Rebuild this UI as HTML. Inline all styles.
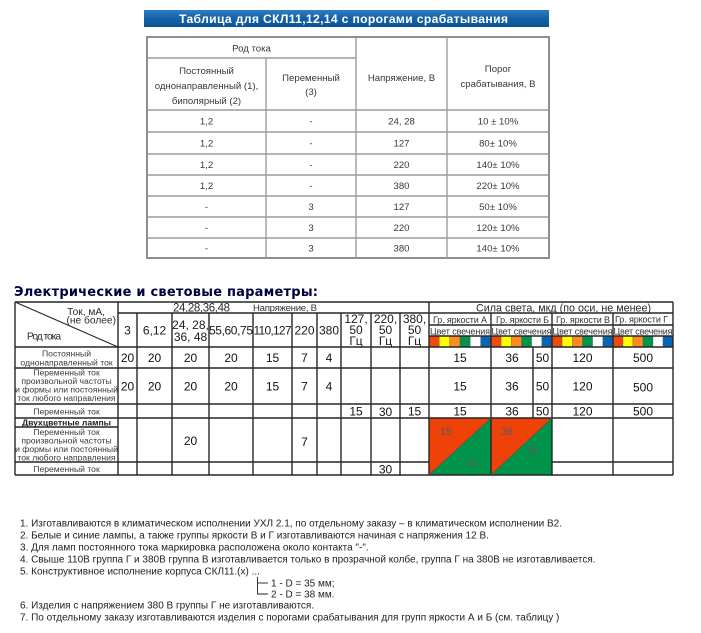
<!DOCTYPE html>
<html><head><meta charset="utf-8">
<style>
html,body{margin:0;padding:0;background:#fff;width:701px;height:633px;overflow:hidden}
svg{display:block;font-family:"Liberation Sans",Arial,sans-serif}
</style></head>
<body>
<svg width="701" height="633" viewBox="0 0 701 633" xmlns="http://www.w3.org/2000/svg">
<defs>
<linearGradient id="bg" x1="0" y1="0" x2="0" y2="1">
<stop offset="0" stop-color="#2f7cc4"/><stop offset="0.5" stop-color="#1262a8"/><stop offset="1" stop-color="#0b5498"/>
</linearGradient>
</defs>
<rect width="701" height="633" fill="#fff"/>

<!-- ===== Top banner ===== -->
<rect x="144" y="10" width="405" height="17" fill="url(#bg)"/>
<text x="179" y="23" fill="#fff" font-weight="bold" font-size="12.2" textLength="329">Таблица для СКЛ11,12,14 с порогами срабатывания</text>

<!-- ===== Top table ===== -->
<g stroke="#9c9c9c" stroke-width="1.4" fill="none">
<rect x="147" y="37" width="402" height="221" stroke="#8e8e8e" stroke-width="2"/>
<line x1="147" y1="58" x2="356" y2="58"/>
<line x1="147" y1="110" x2="549" y2="110"/>
<line x1="147" y1="132" x2="549" y2="132"/>
<line x1="147" y1="154" x2="549" y2="154"/>
<line x1="147" y1="175" x2="549" y2="175"/>
<line x1="147" y1="196" x2="549" y2="196"/>
<line x1="147" y1="217" x2="549" y2="217"/>
<line x1="147" y1="238" x2="549" y2="238"/>
<line x1="266" y1="58" x2="266" y2="258"/>
<line x1="356" y1="37" x2="356" y2="258"/>
<line x1="447" y1="37" x2="447" y2="258"/>
</g>
<g fill="#383838" font-size="9.6" text-anchor="middle">
<text x="251.5" y="51.5">Род тока</text>
<text x="206.5" y="74">Постоянный</text>
<text x="206.5" y="89">однонаправленный (1),</text>
<text x="206.5" y="104">биполярный (2)</text>
<text x="311" y="81">Переменный</text>
<text x="311" y="95">(3)</text>
<text x="401.5" y="81">Напряжение, В</text>
<text x="498" y="72">Порог</text>
<text x="498" y="87">срабатывания, В</text>

<text x="206.5" y="124.5">1,2</text><text x="311" y="124.5">-</text><text x="401.5" y="124.5">24, 28</text><text x="498" y="124.5">10 ± 10%</text>
<text x="206.5" y="146.5">1,2</text><text x="311" y="146.5">-</text><text x="401.5" y="146.5">127</text><text x="498" y="146.5">80± 10%</text>
<text x="206.5" y="168">1,2</text><text x="311" y="168">-</text><text x="401.5" y="168">220</text><text x="498" y="168">140± 10%</text>
<text x="206.5" y="189">1,2</text><text x="311" y="189">-</text><text x="401.5" y="189">380</text><text x="498" y="189">220± 10%</text>
<text x="206.5" y="210">-</text><text x="311" y="210">3</text><text x="401.5" y="210">127</text><text x="498" y="210">50± 10%</text>
<text x="206.5" y="231">-</text><text x="311" y="231">3</text><text x="401.5" y="231">220</text><text x="498" y="231">120± 10%</text>
<text x="206.5" y="251.5">-</text><text x="311" y="251.5">3</text><text x="401.5" y="251.5">380</text><text x="498" y="251.5">140± 10%</text>
</g>

<!-- ===== Section title ===== -->
<text x="14" y="296" fill="#00003c" font-family="'DejaVu Sans',Verdana,sans-serif" font-weight="bold" font-size="13" textLength="304">Электрические и световые параметры:</text>

<!-- ===== Second table: triangles ===== -->
<polygon points="429,418 491,418 429,475" fill="#ee4208"/>
<polygon points="491,418 491,475 429,475" fill="#00944a"/>
<polygon points="491,418 552,418 491,475" fill="#ee4208"/>
<polygon points="552,418 552,475 491,475" fill="#00944a"/>
<g font-size="11" fill="#5a5a5a" text-anchor="middle">
<text x="446" y="435">15</text>
<text x="472" y="466">15</text>
<text x="507" y="435">36</text>
<text x="533" y="454">36</text>
</g>

<!-- colour strip -->
<g stroke="#555" stroke-width="0.6" stroke-dasharray="1,1">
<rect x="429" y="336" width="10.33" height="11" fill="#f04a0a"/>
<rect x="439.33" y="336" width="10.33" height="11" fill="#ffff00"/>
<rect x="449.67" y="336" width="10.33" height="11" fill="#ff8c1e"/>
<rect x="460" y="336" width="10.33" height="11" fill="#00954a"/>
<rect x="470.33" y="336" width="10.33" height="11" fill="#ffffff"/>
<rect x="480.67" y="336" width="10.33" height="11" fill="#0a64b4"/>

<rect x="491" y="336" width="10.17" height="11" fill="#f04a0a"/>
<rect x="501.17" y="336" width="10.17" height="11" fill="#ffff00"/>
<rect x="511.33" y="336" width="10.17" height="11" fill="#ff8c1e"/>
<rect x="521.5" y="336" width="10.17" height="11" fill="#00954a"/>
<rect x="531.67" y="336" width="10.17" height="11" fill="#ffffff"/>
<rect x="541.83" y="336" width="10.17" height="11" fill="#0a64b4"/>

<rect x="552" y="336" width="10.17" height="11" fill="#f04a0a"/>
<rect x="562.17" y="336" width="10.17" height="11" fill="#ffff00"/>
<rect x="572.33" y="336" width="10.17" height="11" fill="#ff8c1e"/>
<rect x="582.5" y="336" width="10.17" height="11" fill="#00954a"/>
<rect x="592.67" y="336" width="10.17" height="11" fill="#ffffff"/>
<rect x="602.83" y="336" width="10.17" height="11" fill="#0a64b4"/>

<rect x="613" y="336" width="10" height="11" fill="#f04a0a"/>
<rect x="623" y="336" width="10" height="11" fill="#ffff00"/>
<rect x="633" y="336" width="10" height="11" fill="#ff8c1e"/>
<rect x="643" y="336" width="10" height="11" fill="#00954a"/>
<rect x="653" y="336" width="10" height="11" fill="#ffffff"/>
<rect x="663" y="336" width="10" height="11" fill="#0a64b4"/>
</g>

<!-- grid lines -->
<g stroke="#262626" stroke-width="1.4" fill="none">
<line x1="15" y1="302" x2="673" y2="302"/>
<line x1="118" y1="313" x2="673" y2="313"/>
<line x1="429" y1="325" x2="673" y2="325"/>
<line x1="429" y1="336" x2="673" y2="336"/>
<line x1="15" y1="347" x2="673" y2="347"/>
<line x1="15" y1="368" x2="673" y2="368"/>
<line x1="15" y1="404" x2="673" y2="404"/>
<line x1="15" y1="418" x2="673" y2="418"/>
<line x1="15" y1="427" x2="118" y2="427"/>
<line x1="15" y1="462" x2="429" y2="462"/>
<line x1="552" y1="462" x2="673" y2="462"/>
<line x1="15" y1="475" x2="673" y2="475"/>

<line x1="15" y1="302" x2="15" y2="475"/>
<line x1="118" y1="302" x2="118" y2="475"/>
<line x1="137" y1="313" x2="137" y2="475"/>
<line x1="172" y1="313" x2="172" y2="475"/>
<line x1="209" y1="313" x2="209" y2="475"/>
<line x1="253" y1="313" x2="253" y2="475"/>
<line x1="292" y1="313" x2="292" y2="475"/>
<line x1="317" y1="313" x2="317" y2="475"/>
<line x1="341" y1="313" x2="341" y2="475"/>
<line x1="371" y1="313" x2="371" y2="475"/>
<line x1="400" y1="313" x2="400" y2="475"/>
<line x1="429" y1="302" x2="429" y2="475"/>
<line x1="491" y1="313" x2="491" y2="475"/>
<line x1="533" y1="347" x2="533" y2="418"/>
<line x1="552" y1="313" x2="552" y2="475"/>
<line x1="613" y1="313" x2="613" y2="475"/>
<line x1="673" y1="302" x2="673" y2="475"/>
<line x1="15" y1="302" x2="118" y2="347" stroke-width="1.1"/>
</g>
<line x1="429" y1="475" x2="491" y2="418" stroke="#555" stroke-width="0.8"/>
<line x1="491" y1="475" x2="552" y2="418" stroke="#555" stroke-width="0.8"/>

<!-- header texts -->
<g fill="#2a2a2a">
<text x="105" y="315" font-size="10.2" text-anchor="end">Ток, мА,</text>
<text x="116" y="323.5" font-size="10.2" text-anchor="end">(не более)</text>
<text x="27" y="339.5" font-size="10.2" textLength="34">Род тока</text>
<text x="173" y="311.5" font-size="11.5" textLength="57">24,28,36,48</text>
<text x="253" y="311" font-size="9.6" fill="#333" textLength="64">Напряжение, В</text>
<text x="476" y="311.5" font-size="10.7" textLength="175">Сила света, мкд (по оси, не менее)</text>
<g font-size="9" fill="#333">
<text x="433" y="323" textLength="54">Гр. яркости А</text>
<text x="496" y="323" textLength="53">Гр. яркости Б</text>
<text x="556" y="323" textLength="54">Гр. яркости В</text>
<text x="615" y="322.5" textLength="53">Гр. яркости Г</text>
<text x="430" y="334.5" textLength="60">Цвет свечения</text>
<text x="491.5" y="334.5" textLength="60">Цвет свечения</text>
<text x="552.5" y="334.5" textLength="60">Цвет свечения</text>
<text x="613.5" y="334.5" textLength="59">Цвет свечения</text>
</g>
<g font-size="12" text-anchor="middle" fill="#1a1a1a">
<text x="127.5" y="334.5">3</text>
<text x="154.5" y="334.5">6,12</text>
<text x="190.5" y="329">24, 28,</text>
<text x="190.5" y="341">36, 48</text>
<text x="231" y="334.5" textLength="44">55,60,75</text>
<text x="272.5" y="334.5" textLength="38">110,127</text>
<text x="304.5" y="334.5">220</text>
<text x="329" y="334.5">380</text>
<text x="356" y="323">127,</text><text x="356" y="334">50</text><text x="356" y="345">Гц</text>
<text x="385.5" y="323">220,</text><text x="385.5" y="334">50</text><text x="385.5" y="345">Гц</text>
<text x="414.5" y="323">380,</text><text x="414.5" y="334">50</text><text x="414.5" y="345">Гц</text>
</g>
</g>

<!-- row labels -->
<g font-size="8.6" fill="#3a3a3a" text-anchor="middle">
<text x="66.5" y="356.5">Постоянный</text>
<text x="66.5" y="365.5">однонаправленный ток</text>
<text x="66.5" y="375.5">Переменный ток</text>
<text x="66.5" y="384">произвольной частоты</text>
<text x="66.5" y="392.5">и формы или постоянный</text>
<text x="66.5" y="401">ток любого направления</text>
<text x="66.5" y="414.5">Переменный ток</text>
<text x="66.5" y="425.5" font-weight="bold" fill="#222">Двухцветные лампы</text>
<text x="66.5" y="435">Переменный ток</text>
<text x="66.5" y="443.5">произвольной частоты</text>
<text x="66.5" y="452">и формы или постоянный</text>
<text x="66.5" y="460.5">ток любого направления</text>
<text x="66.5" y="472">Переменный ток</text>
</g>

<!-- data values -->
<g font-size="12" fill="#111" text-anchor="middle">
<text x="127.5" y="362">20</text><text x="154.5" y="362">20</text><text x="190.5" y="362">20</text><text x="231" y="362">20</text><text x="272.5" y="362">15</text><text x="304.5" y="362">7</text><text x="329" y="362">4</text>
<text x="460" y="362">15</text><text x="512" y="362">36</text><text x="542.5" y="362">50</text><text x="582.5" y="362">120</text><text x="643" y="362">500</text>

<text x="127.5" y="390.5">20</text><text x="154.5" y="390.5">20</text><text x="190.5" y="390.5">20</text><text x="231" y="390.5">20</text><text x="272.5" y="390.5">15</text><text x="304.5" y="390.5">7</text><text x="329" y="390.5">4</text>
<text x="460" y="390.5">15</text><text x="512" y="390.5">36</text><text x="542.5" y="390.5">50</text><text x="582.5" y="390.5">120</text><text x="643" y="391.5">500</text>

<text x="356" y="415.5">15</text><text x="385.5" y="416">30</text><text x="414.5" y="415.5">15</text>
<text x="460" y="415.5">15</text><text x="512" y="415.5">36</text><text x="542.5" y="415.5">50</text><text x="582.5" y="415.5">120</text><text x="643" y="415.5">500</text>

<text x="190.5" y="445">20</text><text x="304.5" y="446">7</text>
<text x="385.5" y="473.5">30</text>
</g>

<!-- ===== Notes ===== -->
<g font-size="10" fill="#222">
<text x="20" y="526.5">1. Изготавливаются в климатическом исполнении УХЛ 2.1, по отдельному заказу – в климатическом исполнении В2.</text>
<text x="20" y="538.5">2. Белые и синие лампы, а также группы яркости В и Г изготавливаются начиная с напряжения 12 В.</text>
<text x="20" y="550.5">3. Для ламп постоянного тока маркировка расположена около контакта "-".</text>
<text x="20" y="562.5">4. Свыше 110В группа Г и 380В группа В изготавливается только в прозрачной колбе, группа Г на 380В не изготавливается.</text>
<text x="20" y="574.5">5. Конструктивное исполнение корпуса СКЛ11.(x) ...</text>
<text x="271" y="586.5">1 - D = 35 мм;</text>
<text x="271" y="597.5">2 - D = 38 мм.</text>
<text x="20" y="608.5">6. Изделия с напряжением 380 В группы Г не изготавливаются.</text>
<text x="20" y="620.5">7. По отдельному заказу изготавливаются изделия с порогами срабатывания для групп яркости А и Б (см. таблицу )</text>
</g>
<g stroke="#222" stroke-width="0.9" fill="none">
<polyline points="257.5,577 257.5,594 268,594"/>
<line x1="257.5" y1="583" x2="268" y2="583"/>
</g>
</svg>
</body></html>
